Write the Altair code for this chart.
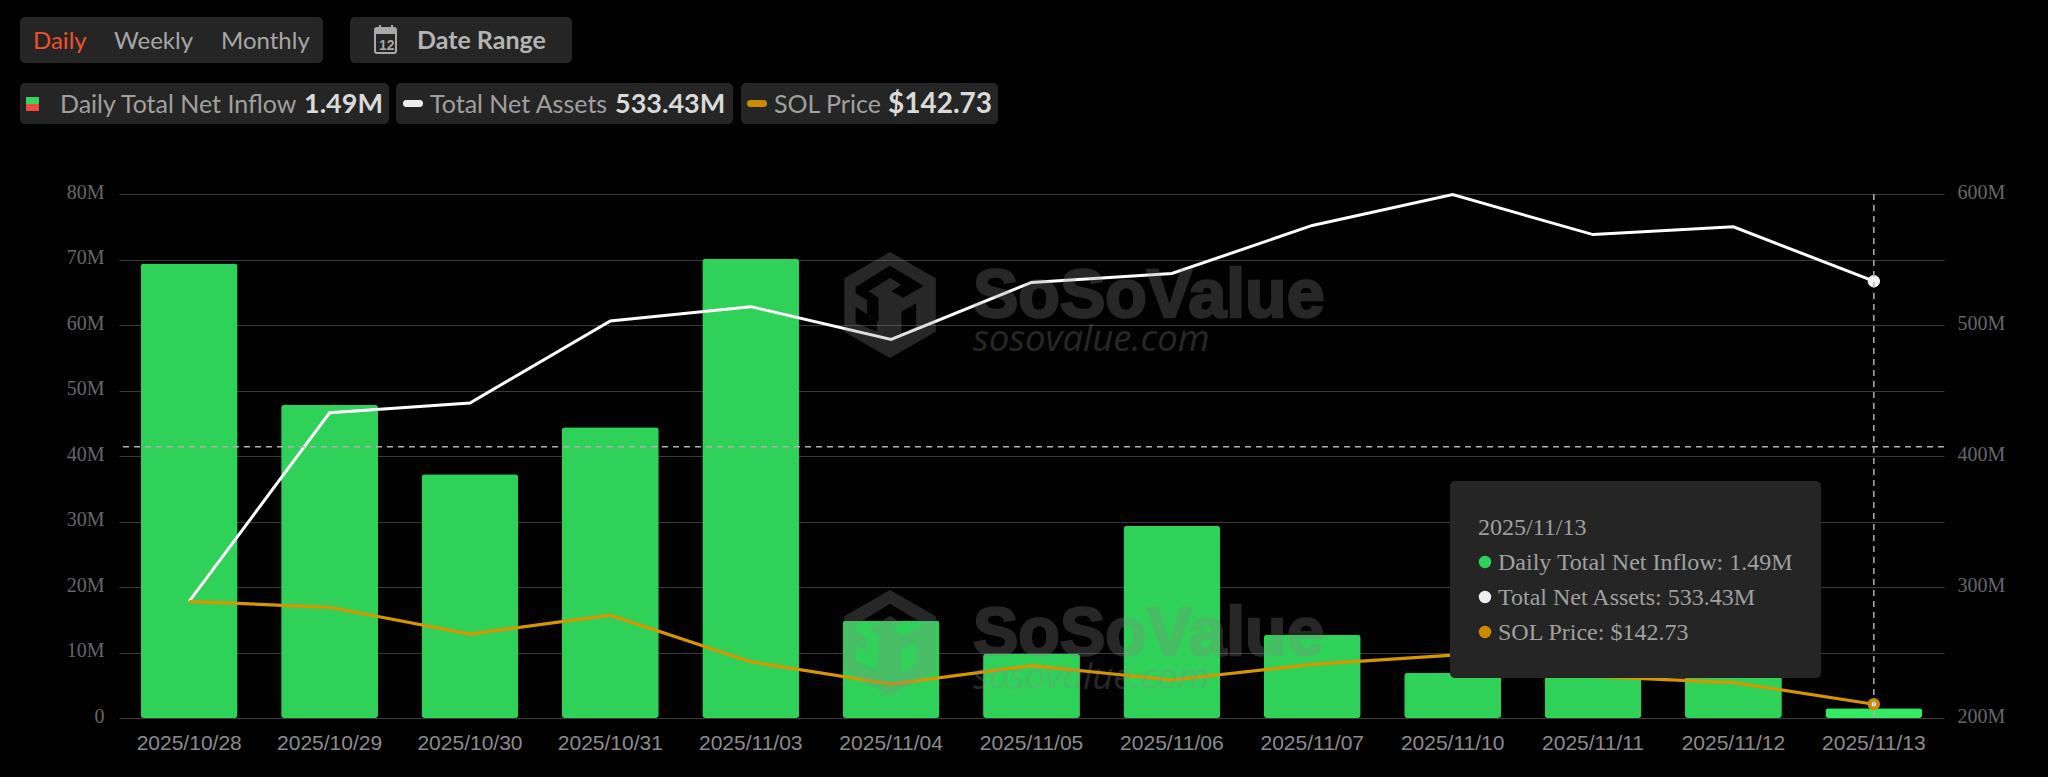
import altair as alt
import pandas as pd

dates = ["2025/10/28", "2025/10/29", "2025/10/30", "2025/10/31", "2025/11/03", "2025/11/04", "2025/11/05",
         "2025/11/06", "2025/11/07", "2025/11/10", "2025/11/11", "2025/11/12", "2025/11/13"]
inflow = [69.4, 47.8, 37.2, 44.4, 70.1, 14.85, 9.82, 29.3, 12.7, 6.87, 8.0, 7.0, 1.49]
assets = [289, 433, 440.5, 503, 514, 489, 532.5, 539.3, 576, 599.5, 569, 575, 533.43]
sol = [199.0, 195.8, 181.1, 191.5, 166.0, 153.8, 163.9, 156.0, 164.6, 169.6, 158.0, 154.6, 142.73]
bar_colors = ["#30D158"] * 12 + ["#33EA62"]
left_ticks = [0, 10, 20, 30, 40, 50, 60, 70, 80]
right_ticks = [200, 300, 400, 500, 600]
hover_date = ["2025/11/13"]
hover_level = [41.4]

BG = "#020202"
PANEL = "#252525"
GREEN = "#30D158"
ORANGE = "#CC8A00"
PAD_L, PAD_T, W, H = 111, 186, 1825, 524
OX, OY = 8 + PAD_L, 8 + PAD_T  # page origin of the plot area

df = pd.DataFrame({"date": dates, "inflow": inflow, "assets": assets, "sol": sol, "color": bar_colors})
one = alt.Data(values=[{"a": 1}])

x_scale = alt.Scale(domain=dates, paddingInner=0.31, paddingOuter=0.155)
x_axis = alt.Axis(labelAngle=0, labelFont="Liberation Sans", labelFontSize=21, labelColor="#8C8C8C",
                  labelPadding=14, domain=False, ticks=False, grid=False, labelOverlap=False)
x_enc = alt.X("date:N", scale=x_scale, axis=x_axis, sort=None, title=None)


def text(s, X, Y, size, color, font="Lato", weight="normal", style="normal", opacity=1.0, stroke=0):
    kw = dict(stroke=color, strokeWidth=stroke) if stroke else {}
    return alt.Chart(one).mark_text(text=s, font=font, fontSize=size, color=color, fontWeight=weight, fontStyle=style,
                                    opacity=opacity, align="left", baseline="alphabetic", **kw).encode(
        x=alt.value(X - OX), y=alt.value(Y - OY))


def box(x0, y0, x1, y1, fill=PANEL, radius=5, stroke=None, sw=0):
    kw = dict(fill=fill, cornerRadius=radius)
    if stroke:
        kw.update(stroke=stroke, strokeWidth=sw)
    return alt.Chart(one).mark_rect(**kw).encode(
        x=alt.value(x0 - OX), x2=alt.value(x1 - OX), y=alt.value(y0 - OY), y2=alt.value(y1 - OY))


def poly(points):
    return "M" + " L".join(f"{(px - 165) / 162:.3f},{(py - 180) / 162:.3f}" for px, py in points) + " Z"


LOGO = " ".join([
    poly([(165, 18), (305, 98), (305, 262), (165, 342), (25, 262), (25, 98)]),
    poly(list(reversed([(60, 125), (165, 60), (268, 122), (205, 158), (170, 138), (200, 118), (165, 97), (100, 138),
                        (130, 158), (130, 232), (95, 210), (95, 165), (60, 145)]))),
    poly(list(reversed([(200, 200), (245, 175), (245, 245), (200, 270)]))),
    poly(list(reversed([(60, 185), (125, 228), (125, 262), (60, 235)]))),
])


def watermark(dy):
    col, op = "#888888", 0.28
    return [
        alt.Chart(one).mark_point(shape=LOGO, filled=True, fill=col, opacity=op, strokeWidth=0, size=11236).encode(
            x=alt.value(890 - OX), y=alt.value(305 + dy - OY)),
        text("SoSoValue", 973, 317 + dy, 68, col, font="Liberation Sans", weight="bold", opacity=op, stroke=2.5),
        text("sosovalue.com", 973, 351 + dy, 36.5, col, font="Open Sans", style="italic", opacity=op),
    ]


bars = alt.Chart(df).mark_bar(cornerRadius=3).encode(
    x=x_enc,
    y=alt.Y("inflow:Q", scale=alt.Scale(domain=[0, 80], nice=False), title=None,
            axis=alt.Axis(values=left_ticks, labelExpr="datum.value == 0 ? '0' : datum.value + 'M'",
                          labelFont="Liberation Serif", labelFontSize=20, labelColor="#66666A", labelPadding=15,
                          labelOffset=-2, domain=False, ticks=False, grid=True, gridColor="#3A3A3A", gridWidth=1)),
    color=alt.Color("color:N", scale=None),
)
assets_line = alt.Chart(df).mark_line(color="#FFFFFF", strokeWidth=3).encode(
    x=x_enc,
    y=alt.Y("assets:Q", scale=alt.Scale(domain=[200, 600], nice=False), title=None,
            axis=alt.Axis(orient="right", values=right_ticks, labelExpr="datum.value + 'M'",
                          labelFont="Liberation Serif", labelFontSize=20, labelColor="#66666A", labelPadding=13,
                          labelOffset=-2, domain=False, ticks=False, grid=False)),
)
sol_scale = alt.Scale(domain=[135.2, 422], nice=False)
sol_line = alt.Chart(df).mark_line(color="#D79500", strokeWidth=3.2).encode(
    x=x_enc, y=alt.Y("sol:Q", scale=sol_scale, axis=None))
last = df[df["date"].isin(hover_date)]
assets_dot = alt.Chart(last).mark_point(filled=True, fill="#F2F2F2", stroke="#FFFFFF", strokeWidth=1, size=130,
                                        opacity=1).encode(
    x=x_enc, y=alt.Y("assets:Q", scale=alt.Scale(domain=[200, 600], nice=False), axis=None))
sol_dot = alt.Chart(last).mark_point(filled=True, fill="#FFFFFF", stroke=ORANGE, strokeWidth=4, size=70,
                                     opacity=1).encode(
    x=x_enc, y=alt.Y("sol:Q", scale=sol_scale, axis=None))
hover_v = alt.Chart(pd.DataFrame({"date": hover_date})).mark_rule(color="#B0B0B0", strokeWidth=1.5,
                                                                  strokeDash=[6, 5]).encode(x=x_enc)
hover_h = alt.Chart(pd.DataFrame({"lvl": hover_level})).mark_rule(color="#B0B0B0", strokeWidth=1.5,
                                                                  strokeDash=[6, 5]).encode(
    y=alt.Y("lvl:Q", scale=alt.Scale(domain=[0, 80], nice=False), axis=None))

chrome = [
    box(20, 17, 323, 63), box(350, 17, 572, 63),
    text("Daily", 33, 49, 24, "#F0512B"),
    text("Weekly", 114, 49, 24, "#A6A6A6"),
    text("Monthly", 221, 49, 24, "#A6A6A6"),
    box(375, 28, 396, 53, fill=PANEL, radius=2, stroke="#A8A8A8", sw=2),
    box(375, 28, 396, 34, fill="#A8A8A8", radius=1),
    box(379, 25, 381, 31, fill="#A8A8A8", radius=0),
    box(391, 25, 393, 31, fill="#A8A8A8", radius=0),
    text("12", 379, 50, 14, "#A8A8A8", font="Liberation Sans", weight="bold"),
    text("Date Range", 417, 49, 25, "#B4B4B4", weight="bold"),
    box(20, 83, 389, 124), box(396, 83, 733, 124), box(741, 83, 998, 124),
    box(26, 97, 39, 104, fill="#33D65C", radius=0), box(26, 104, 39, 111, fill="#F04A45", radius=0),
    text("Daily Total Net Inflow", 60, 113, 25, "#A0A0A0"),
    text("1.49M", 304, 113, 27, "#DADADA", weight="bold"),
    box(403, 100, 423, 107, fill="#EDEDED", radius=3),
    text("Total Net Assets", 430, 113, 25, "#A0A0A0"),
    text("533.43M", 615, 113, 27, "#DADADA", weight="bold"),
    box(747, 100, 767, 107, fill=ORANGE, radius=3),
    text("SOL Price", 774, 113, 25, "#A0A0A0"),
    text("$142.73", 888, 113, 28, "#DADADA", weight="bold"),
]


def tip_dot(color, Y):
    return alt.Chart(one).mark_point(filled=True, fill=color, opacity=1, size=154, strokeWidth=0).encode(
        x=alt.value(1485 - OX), y=alt.value(Y - OY))


tooltip = [
    box(1450, 481, 1821, 678),
    text("2025/11/13", 1478, 535, 24, "#A0A0A0", font="Liberation Serif"),
    tip_dot(GREEN, 562), text("Daily Total Net Inflow: 1.49M", 1498, 570, 24, "#A0A0A0", font="Liberation Serif"),
    tip_dot("#EDEDED", 597), text("Total Net Assets: 533.43M", 1498, 605, 24, "#A0A0A0", font="Liberation Serif"),
    tip_dot(ORANGE, 632), text("SOL Price: $142.73", 1498, 640, 24, "#A0A0A0", font="Liberation Serif"),
]

layers = [bars, assets_line, sol_line, assets_dot, sol_dot, hover_v, hover_h] + watermark(0) + watermark(338) \
    + chrome + tooltip

chart = alt.layer(*layers).resolve_scale(y="independent").properties(
    width=W, height=H,
    autosize=alt.AutoSizeParams(type="none"),
    padding={"left": PAD_L, "top": PAD_T, "right": 2032 - PAD_L - W, "bottom": 760 - PAD_T - H},
    background=BG,
).configure_view(stroke=None)

chart.save("out.html", embed_options={"renderer": "svg", "actions": False,
                                      "defaultStyle": "html,body{background:#020202;overflow:hidden}"})
